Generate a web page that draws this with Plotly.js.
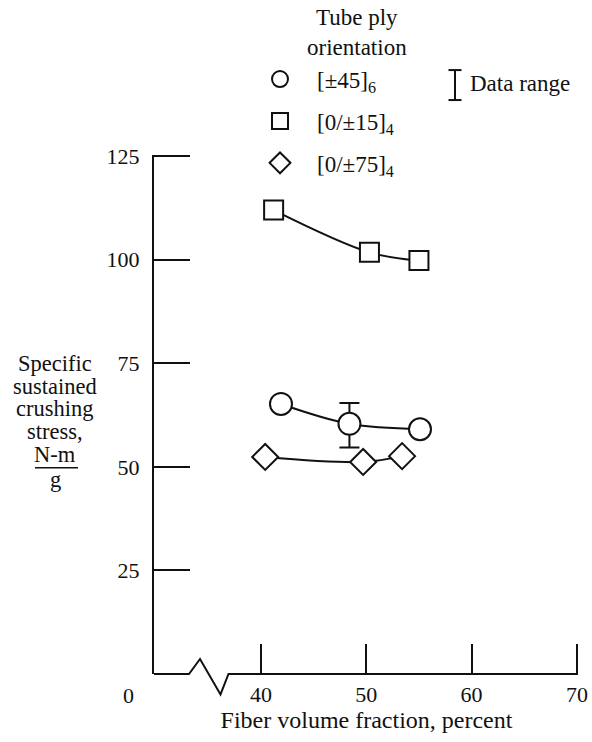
<!DOCTYPE html>
<html><head><meta charset="utf-8">
<script src="https://cdn.plot.ly/plotly-3.0.1.min.js"></script>
<style>html,body{margin:0;padding:0;background:#fff}#chart{width:592px;height:742px}</style>
</head><body><div id="chart"></div>
<script>
// ---- data ----
const seriesNames = ['[±45]<sub>6</sub>', '[0/±15]<sub>4</sub>', '[0/±75]<sub>4</sub>'];
const circleX = [41.9, 48.4, 55.1];
const circleY = [65.2, 60.4, 59.1];
const circleErrPlus = [null, 5.0, null];
const circleErrMinus = [null, 5.7, null];
const squareX = [41.2, 50.3, 55.0];
const squareY = [112.0, 101.8, 99.8];
const diamondX = [40.4, 49.7, 53.4];
const diamondY = [52.4, 51.2, 52.6];
const xTickVals = [40, 50, 60, 70];
const xTickText = ['40', '50', '60', '70'];
const yTickVals = [25, 50, 75, 100, 125];
const yTickText = ['25', '50', '75', '100', '125'];
const yTitleLines = ['Specific', 'sustained', 'crushing', 'stress,', 'N-m', 'g'];
const legendTitle = 'Tube ply<br>orientation';
const rangeLabel = 'Data range';
const xTitle = 'Fiber volume fraction, percent';

// ---- layout helpers (pixel -> paper) ----
const L = 154, T = 155, W = 425, H = 519.5;
const px = v => (v - L) / W;
const py = v => (T + H - v) / H;
const FONT = 'Liberation Serif, Times New Roman, serif';
const INK = '#111';

const lineStyle = {color: INK, width: 2, shape: 'spline', smoothing: 1};
const traces = [
  {x: squareX, y: squareY, mode: 'lines', line: lineStyle, showlegend: false, hoverinfo: 'skip'},
  {x: circleX, y: circleY, mode: 'lines', line: lineStyle, showlegend: false, hoverinfo: 'skip'},
  {x: diamondX, y: diamondY, mode: 'lines', line: lineStyle, showlegend: false, hoverinfo: 'skip'},
  {x: circleX, y: circleY, mode: 'markers', name: seriesNames[0], legendgroup: 'a',
   marker: {symbol: 'circle', size: 22, color: '#fff', line: {color: INK, width: 2}},
   error_y: {type: 'data', array: circleErrPlus, arrayminus: circleErrMinus, symmetric: false,
             color: INK, thickness: 2, width: 10}},
  {x: squareX, y: squareY, mode: 'markers', name: seriesNames[1], legendgroup: 'b',
   marker: {symbol: 'square', size: 19, color: '#fff', line: {color: INK, width: 2}}},
  {x: diamondX, y: diamondY, mode: 'markers', name: seriesNames[2], legendgroup: 'c',
   marker: {symbol: 'diamond', size: 20, color: '#fff', line: {color: INK, width: 2}}}
];

const yTitlePos = [364, 387, 409, 432, 455, 480];
const annotations = yTitleLines.map((t, i) => ({
  text: t, xref: 'paper', yref: 'paper', x: px(55), y: py(yTitlePos[i]),
  xanchor: 'center', yanchor: 'middle', showarrow: false, font: {family: FONT, size: 22.5, color: INK}
}));
annotations.push({text: '0', xref: 'paper', yref: 'paper', x: px(128), y: py(696),
  xanchor: 'center', yanchor: 'middle', showarrow: false, font: {family: FONT, size: 22, color: INK}});
annotations.push({text: rangeLabel, xref: 'paper', yref: 'paper', x: px(468), y: py(83),
  xanchor: 'left', yanchor: 'middle', showarrow: false, font: {family: FONT, size: 23, color: INK}});
annotations.push({text: legendTitle, xref: 'paper', yref: 'paper', x: px(357), y: py(32),
  xanchor: 'center', yanchor: 'middle', showarrow: false, font: {family: FONT, size: 23, color: INK}});

const ln = {color: INK, width: 2};
const axisPath = 'M' + px(154) + ',' + py(674.5) + ' L' + px(189) + ',' + py(674.5) +
  ' L' + px(200) + ',' + py(659.5) + ' L' + px(220.5) + ',' + py(695) +
  ' L' + px(228.5) + ',' + py(674.5) + ' L' + px(578) + ',' + py(674.5);
const shapes = [
  {type: 'path', xref: 'paper', yref: 'paper', path: axisPath, line: ln},
  {type: 'line', xref: 'paper', yref: 'paper', x0: px(35), x1: px(78), y0: py(468), y1: py(468), line: {color: INK, width: 1.5}},
  {type: 'line', xref: 'paper', yref: 'paper', x0: px(455), x1: px(455), y0: py(70), y1: py(100), line: ln},
  {type: 'line', xref: 'paper', yref: 'paper', x0: px(448.5), x1: px(461.5), y0: py(70), y1: py(70), line: ln},
  {type: 'line', xref: 'paper', yref: 'paper', x0: px(448.5), x1: px(461.5), y0: py(100), y1: py(100), line: ln}
];

const layout = {
  width: 592, height: 742,
  margin: {l: L, r: 592 - L - W, t: T, b: 742 - T - H},
  paper_bgcolor: '#fff', plot_bgcolor: '#fff',
  font: {family: FONT, size: 22, color: INK},
  showlegend: true,
  legend: {x: px(243), y: py(57.5), xanchor: 'left', yanchor: 'top', bgcolor: 'rgba(0,0,0,0)',
           font: {family: FONT, size: 23, color: INK}, itemwidth: 64, tracegroupgap: 9,
           traceorder: 'grouped'},
  xaxis: {range: [29.84, 70.2], tickmode: 'array', tickvals: xTickVals, ticktext: xTickText,
          ticks: 'inside', ticklen: 30, tickwidth: 2, tickcolor: INK, showline: false,
          showgrid: false, zeroline: false, ticklabelstandoff: 5, automargin: false,
          tickfont: {family: FONT, size: 22, color: INK},
          title: {text: xTitle, standoff: 4, font: {family: FONT, size: 24, color: INK}}},
  yaxis: {range: [0, 125.3], tickmode: 'array', tickvals: yTickVals, ticktext: yTickText,
          ticks: 'inside', ticklen: 36, tickwidth: 2, tickcolor: INK, showline: true,
          linewidth: 2, linecolor: INK, showgrid: false, zeroline: false,
          ticklabelstandoff: 8, automargin: false,
          tickfont: {family: FONT, size: 22, color: INK}},
  annotations: annotations,
  shapes: shapes
};

Plotly.newPlot('chart', traces, layout, {displayModeBar: false, staticPlot: true});
</script>
</body></html>
